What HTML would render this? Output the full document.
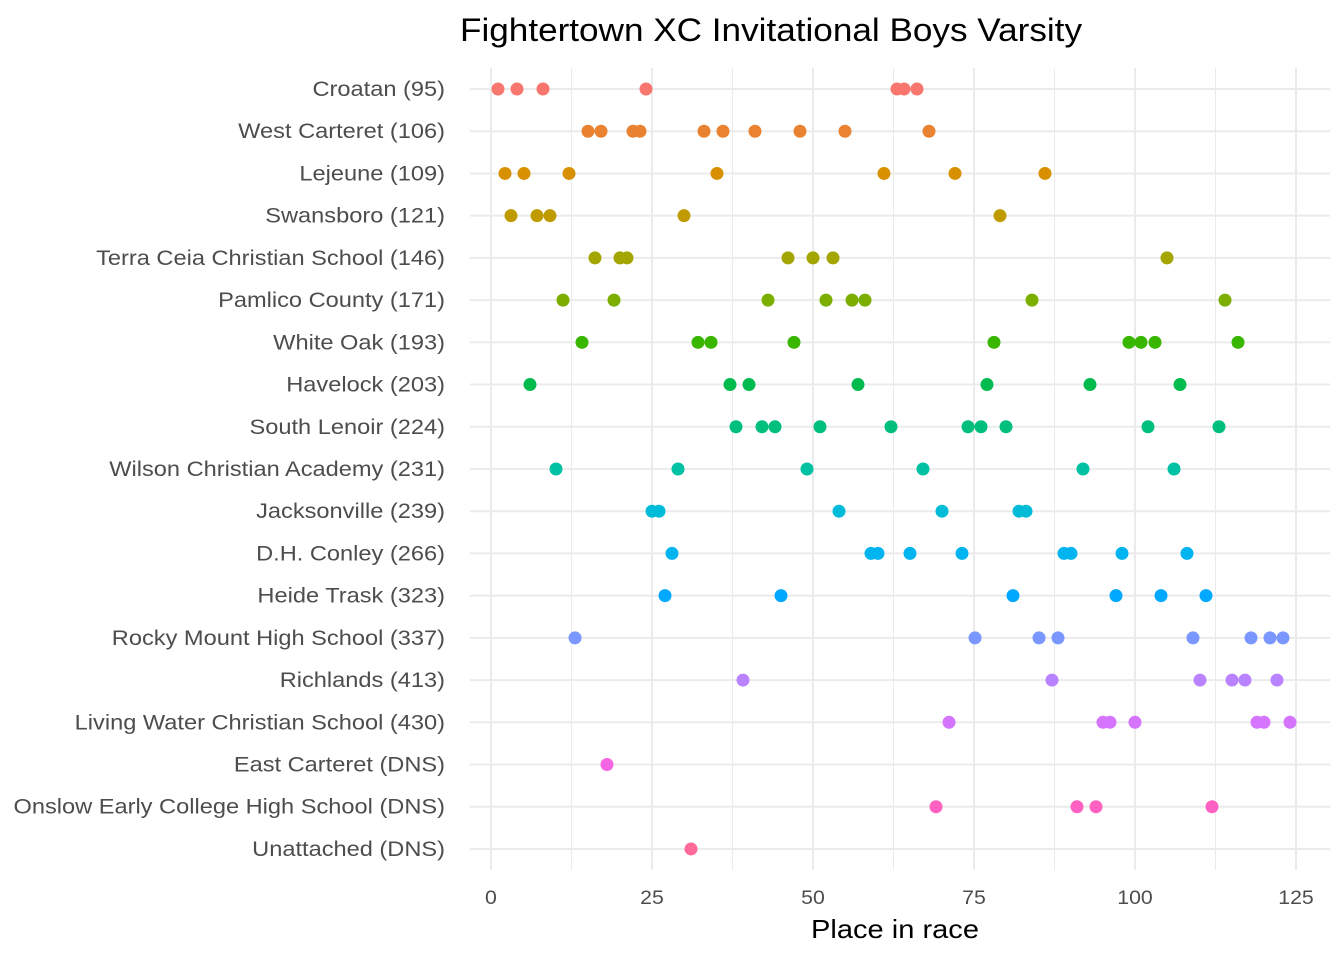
<!DOCTYPE html>
<html><head><meta charset="utf-8"><style>body{margin:0;background:#fff}svg{display:block}</style></head>
<body>
<svg id="s" width="1344" height="960" xmlns="http://www.w3.org/2000/svg" font-family="Liberation Sans, sans-serif">
<rect width="1344" height="960" fill="#fff"/>
<g id="grid"></g>
<g id="lab" font-size="21" fill="#4D4D4D" text-anchor="end"></g>
<g id="pts"></g>
<g id="ticks" font-size="19" fill="#4D4D4D" text-anchor="middle">
<text x="491" y="904">0</text><text x="652" y="904">25</text><text x="813" y="904">50</text><text x="974" y="904">75</text><text x="1135" y="904">100</text><text x="1296" y="904">125</text>
</g>
<text x="895" y="938" font-size="26" text-anchor="middle" fill="#000" textLength="168" lengthAdjust="spacingAndGlyphs">Place in race</text>
<text x="771" y="41" font-size="32" text-anchor="middle" fill="#000" textLength="622" lengthAdjust="spacingAndGlyphs">Fightertown XC Invitational Boys Varsity</text>
</svg>
<script>
const names=["Croatan (95)","West Carteret (106)","Lejeune (109)","Swansboro (121)","Terra Ceia Christian School (146)","Pamlico County (171)","White Oak (193)","Havelock (203)","South Lenoir (224)","Wilson Christian Academy (231)","Jacksonville (239)","D.H. Conley (266)","Heide Trask (323)","Rocky Mount High School (337)","Richlands (413)","Living Water Christian School (430)","East Carteret (DNS)","Onslow Early College High School (DNS)","Unattached (DNS)"];
const cols=["#F8766D","#EA8331","#D89000","#C09B00","#A3A500","#7CAE00","#39B600","#00BB4E","#00BF7D","#00C1A3","#00BCD8","#00B4F0","#00A9FF","#7997FF","#B983FF","#D575FE","#F564E3","#FF61C3","#FF6A98"];
const d=[[498,517,543,646,897,904,917],[588,601,633,640,704,723,755,800,845,929],[505,524,569,717,884,955,1045],[511,537,550,684,1000],[595,620,627,788,813,833,1167],[563,614,768,826,852,865,1032,1225],[582,698,711,794,994,1129,1141,1155,1238],[530,730,749,858,987,1090,1180],[736,762,775,820,891,968,981,1006,1148,1219],[556,678,807,923,1083,1174],[652,659,839,942,1019,1026],[672,871,878,910,962,1064,1071,1122,1187],[665,781,1013,1116,1161,1206],[575,975,1039,1058,1193,1251,1270,1283],[743,1052,1200,1232,1245,1277],[949,1103,1110,1135,1257,1264,1290],[607],[936,1077,1096,1212],[691]];
const NS="http://www.w3.org/2000/svg";
function el(p,t,a){const e=document.createElementNS(NS,t);for(const k in a)e.setAttribute(k,a[k]);p.appendChild(e);return e;}
const g=document.getElementById("grid"),L=document.getElementById("lab"),P=document.getElementById("pts");
for(let i=0;i<=10;i++){const x=491+i*80.5;if(x>1330)break;el(g,"line",{x1:x,x2:x,y1:68,y2:870,stroke:"#EBEBEB","stroke-width":i%2?1:2});}
d.forEach((r,i)=>{const y=89+i*42.22;
el(g,"line",{x1:470,x2:1330,y1:y,y2:y,stroke:"#EBEBEB","stroke-width":2});
const t=el(L,"text",{x:445,y:y+7});t.textContent=names[i];
const w=t.getComputedTextLength();t.setAttribute("textLength",w*1.18*20/21);t.setAttribute("lengthAdjust","spacingAndGlyphs");
r.forEach(x=>el(P,"circle",{cx:x,cy:y,r:6.5,fill:cols[i]}));});
document.querySelectorAll("#ticks text").forEach(t=>{const w=t.getComputedTextLength();t.setAttribute("textLength",w*1.12);t.setAttribute("lengthAdjust","spacingAndGlyphs");});
</script>
</body></html>
